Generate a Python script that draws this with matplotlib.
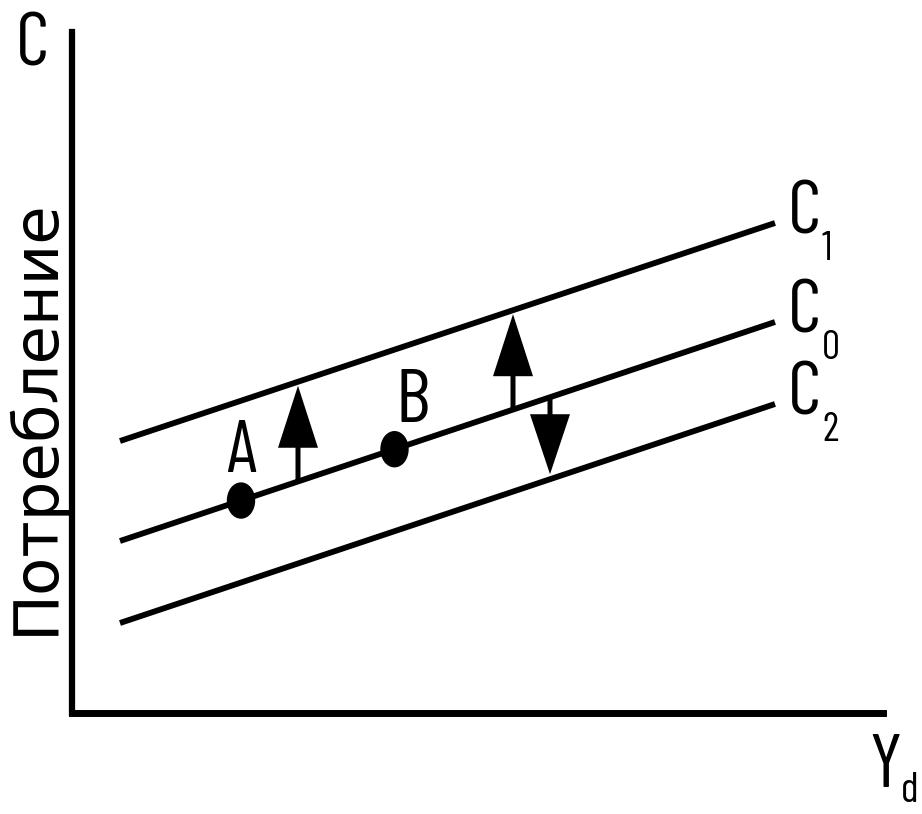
import numpy as np
import matplotlib.pyplot as plt
from matplotlib.patches import Ellipse

# доход (Yd) и три функции потребления
yd = np.array([48, 703])
c1 = np.array([272, 490])
c0 = np.array([172, 391])
c2 = np.array([90, 309])

# точки A и B на C0
pt_names = ['A', 'B']
pt_x = np.array([169, 322.5])

# сдвиги: вверх C0->C1 и вниз C0->C2
up_x = [226, 441]
down_x = [478]

narrow = ['Barlow Condensed', 'DejaVu Sans']

fig = plt.figure(figsize=(9.22, 8.14), dpi=100)
ax = fig.add_axes([72/922, 101/814, 811/922, 681/814])
ax.set_xlim(0, 811)
ax.set_ylim(0, 681)
for s in ['top', 'right']:
    ax.spines[s].set_visible(False)
ax.spines['left'].set_linewidth(4.5)
ax.spines['bottom'].set_linewidth(5)
ax.set_xticks([])
ax.set_yticks([])

for c in [c1, c0, c2]:
    ax.plot(yd, c, color='black', lw=4.2, solid_capstyle='butt')

# точки
pt_y = np.interp(pt_x, yd, c0)
for x, y in zip(pt_x, pt_y):
    ax.add_patch(Ellipse((x, y), 27, 35, color='black', zorder=5))

# стрелки
for x in up_x:
    y0 = np.interp(x, yd, c0)
    y1 = np.interp(x, yd, c1)
    ax.arrow(x, y0, 0, y1 - y0 - 4, width=5, head_width=40, head_length=62,
             length_includes_head=True, fc='black', ec='black', lw=0)
for x in down_x:
    y0 = np.interp(x, yd, c0)
    y1 = np.interp(x, yd, c2)
    ax.arrow(x, y0, 0, y1 - y0 + 5, width=5, head_width=40, head_length=60,
             length_includes_head=True, fc='black', ec='black', lw=0)

# подписи
kw = dict(family=narrow, clip_on=False, va='baseline')
ax.text(169.5, 241, pt_names[0], fontsize=53, ha='center', **kw)
ax.text(340.5, 291, pt_names[1], fontsize=55, ha='center', **kw)

for c, sub in [(c1, '1'), (c0, '0'), (c2, '2')]:
    ax.text(716, c[-1] - 10, 'C', fontsize=54, ha='left', **kw)
    ax.text(750, c[-1] - 37, sub, fontsize=29, ha='left', **kw)

ax.text(-56, 648, 'C', fontsize=54, ha='left', **kw)
ax.text(797, -74, 'Y', fontsize=55, ha='left', **kw)
ax.text(829, -98, 'd', fontsize=30, ha='left', va='bottom',
        family=narrow, clip_on=False)

ax.text(-37, 296, 'Потребление', fontsize=45, rotation=90, ha='center',
        va='center', family='DejaVu Sans', clip_on=False)

fig.savefig('out.png', dpi=100)
